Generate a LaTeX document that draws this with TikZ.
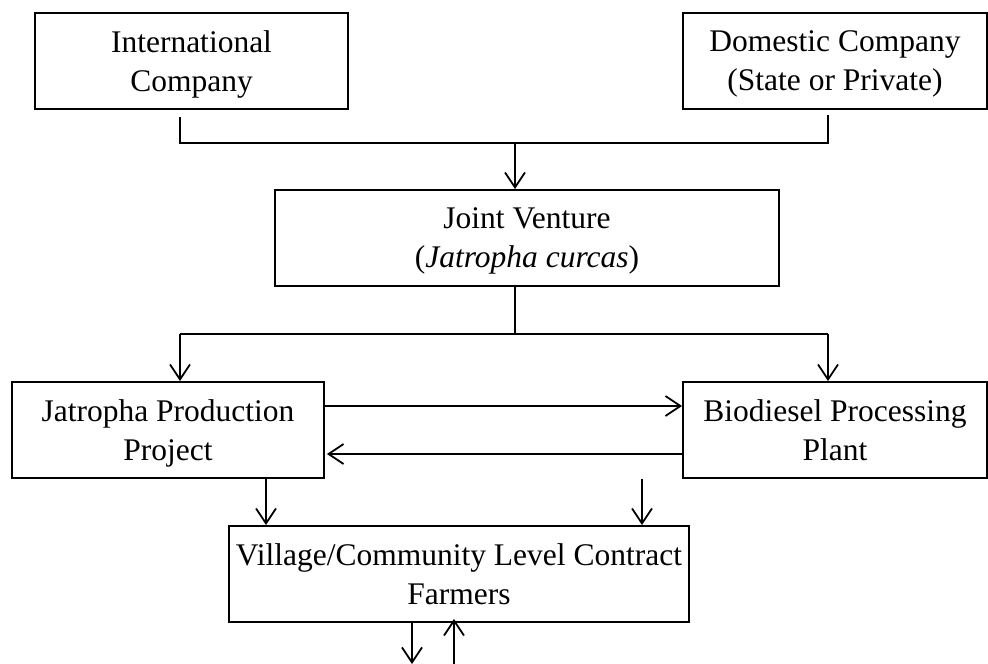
\documentclass[tikz,border=0pt]{standalone}
\usepackage{fontspec}
\setmainfont{Liberation Serif}
\usetikzlibrary{arrows.meta}
\begin{document}
\begin{tikzpicture}[x=1pt,y=-1pt,
  box/.style={draw,line width=1.8pt,align=center,inner sep=0pt,text depth=0pt,
    font=\fontsize{31.5}{39}\selectfont},
  conn/.style={line width=1.8pt},
  arr/.style={line width=1.8pt,-{Straight Barb[length=15pt,width=20pt,line width=1.8pt]}}]
\useasboundingbox (0,0) rectangle (988,664);
\node[box,minimum width=313pt,minimum height=96pt] (ic) at (191.5,61) {International\\Company};
\node[box,minimum width=304pt,minimum height=96pt] (dc) at (835,61) {Domestic Company\\(State or Private)};
\node[box,minimum width=504pt,minimum height=96pt] (jv) at (527,238) {Joint Venture\\(\textit{Jatropha curcas})};
\node[box,minimum width=312pt,minimum height=96pt] (jp) at (168,430) {Jatropha Production\\Project};
\node[box,minimum width=304pt,minimum height=96pt] (bp) at (835,430) {Biodiesel Processing\\Plant};
\node[box,minimum width=460pt,minimum height=96pt] (vc) at (459,574) {Village/Community Level Contract\\Farmers};
% top junction
\coordinate (icS) at (180,117);
\coordinate (dcS) at (828,115);
\coordinate (j1) at (515,143);
\draw[conn] (icS) -- (180,143) -- (828,143) -- (dcS);
\draw[arr] (j1) -- (jv.north -| j1);
% joint venture split
\coordinate (j2) at (515,334);
\draw[conn] (jv.south -| j2) -- (j2);
\draw[conn] (180,334) -- (828,334);
\draw[arr] (180,334) -- (jp.north -| 180,0);
\draw[arr] (828,334) -- (bp.north -| 828,0);
% horizontal exchanges
\draw[arr] (jp.east |- 0,406) -- (bp.west |- 0,406);
\draw[arr] (bp.west |- 0,454) -- ([xshift=2pt]jp.east |- 0,454);
% down to village
\draw[arr] (jp.south -| 266,0) -- (vc.north -| 266,0);
\draw[arr] (bp.south -| 642,0) -- (vc.north -| 642,0);
% bottom
\coordinate (b1) at (412,664);
\coordinate (b2) at (454,664);
\draw[arr] (vc.south -| b1) -- (b1);
\draw[arr] (b2) -- ([yshift=4pt]vc.south -| b2);
\end{tikzpicture}
\end{document}
